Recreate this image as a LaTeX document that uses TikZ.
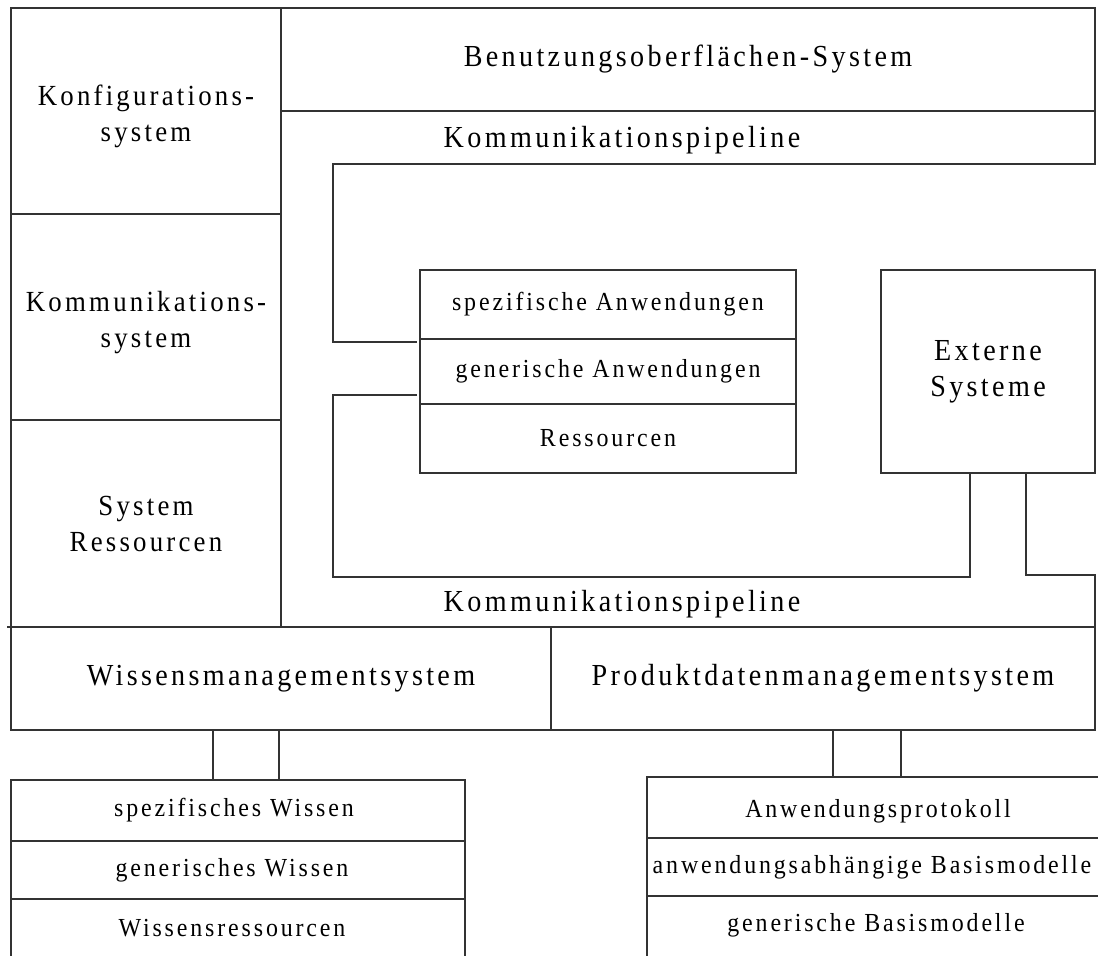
\documentclass[tikz,border=0pt]{standalone}
\usepackage{fontspec}
\setmainfont[LetterSpace=11,FakeStretch=0.92]{Liberation Serif}
\tikzstyle{wall}=[draw=black!80,line width=0.7pt]
\tikzstyle{bigtext}=[font=\fontsize{17.4}{20.5}\selectfont,align=center,inner sep=0pt]
\tikzstyle{sidetext}=[font=\fontsize{16.6}{20.5}\selectfont,align=center,inner sep=0pt]
\tikzstyle{smalltext}=[font=\fontsize{14.8}{17}\selectfont,align=center,inner sep=0pt]

\begin{document}
\begin{tikzpicture}[x=0.02cm,y=-0.02cm]  % one unit = one pixel, y downwards

\useasboundingbox (0,0) rectangle (1098,956);

% left column
\draw[wall] (11,8) rectangle (281,214) node[pos=0.5,sidetext,yshift=-3] (konfig) {Konfigurations-\\system};
\draw[wall] (11,214) rectangle (281,420) node[pos=0.5,sidetext,yshift=-3] (kommsys) {Kommunikations-\\system};
\draw[wall] (11,420) rectangle (281,627) node[pos=0.5,sidetext] (sysres) {System\\Ressourcen};

% top bar and the two pipelines
\draw[wall] (281,8) rectangle (1095,111) node[pos=0.5,bigtext] (gui) {Benutzungsoberflächen-System};
\draw[wall] (1095,111)
      to  (1095,164)
      to  (333,164)
      to  (333,342)
      to  (417,342);
\node[bigtext] (pipeoben) at (622,140) {Kommunikationspipeline};

\draw[wall] (417,395)
      to  (333,395)
      to  (333,577)
      to  (970,577)
      to  (970,473);
\draw[wall] (1026,473)
      to  (1026,575)
      to  (1095,575)
      to  (1095,627);
\node[bigtext] (pipeunten) at (622,604) {Kommunikationspipeline};
\draw[wall] (7,627) to (1095,627);

% applications
\draw[wall] (420,270) rectangle (796,339) node[pos=0.5,smalltext] (spezanw) {spezifische Anwendungen};
\draw[wall] (420,339) rectangle (796,404) node[pos=0.5,smalltext] (genanw) {generische Anwendungen};
\draw[wall] (420,404) rectangle (796,473) node[pos=0.5,smalltext] (res) {Ressourcen};

\draw[wall] (881,270) rectangle (1095,473) node[pos=0.5,bigtext] (extern) {Externe\\Systeme};

% management systems
\draw[wall] (11,627) rectangle (551,730) node[pos=0.5,bigtext] (wms) {Wissensmanagementsystem};
\draw[wall] (551,627) rectangle (1095,730) node[pos=0.5,bigtext] (pdm) {Produktdatenmanagementsystem};

\draw[wall] (213,730) rectangle (279,780);
\draw[wall] (833,730) rectangle (901,777);

% knowledge stack
\draw[wall] (11,960)
      to  (11,780)
      to  (465,780)
      to  (465,960);
\draw[wall] (11,841) to (465,841);
\draw[wall] (11,899) to (465,899);
\node[smalltext] (spezwissen) at (234,810) {spezifisches Wissen};
\node[smalltext] (genwissen) at (232,870) {generisches Wissen};
\node[smalltext] (wissres) at (232,928) {Wissensressourcen};

% product data stack
\draw[wall] (647,960)
      to  (647,777)
      to  (1100,777);
\draw[wall] (647,838) to (1100,838);
\draw[wall] (647,896) to (1100,896);
\node[smalltext] (protokoll) at (878,811) {Anwendungsprotokoll};
\node[smalltext] (abhmodelle) at (872,867) {anwendungsabhängige Basismodelle};
\node[smalltext] (genmodelle) at (876,925) {generische Basismodelle};

\end{tikzpicture}
\end{document}
